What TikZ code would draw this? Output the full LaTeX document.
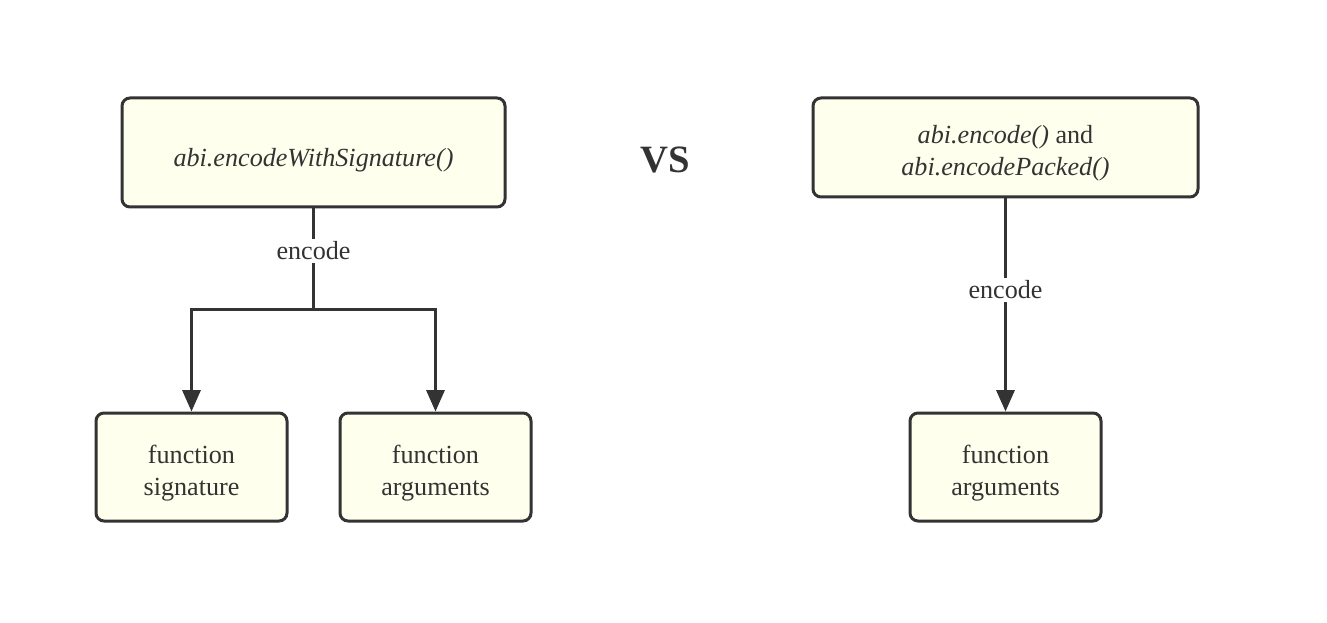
\documentclass[tikz,border=0pt]{standalone}
\usepackage{fontspec}
\setmainfont{Liberation Serif}
\usetikzlibrary{arrows.meta}
\definecolor{boxfill}{HTML}{FFFFEE}
\definecolor{ink}{HTML}{333333}
\newcommand{\boxtext}[2][4.3pt]{\raisebox{-#1}[\height][\depth]{\begin{tabular}{@{}c@{}}#2\end{tabular}}}
\tikzset{
  box/.style={draw=ink, fill=boxfill, line width=2.25pt, rounded corners=6pt,
    text=ink, align=center, font=\fontsize{19.6}{24.3}\selectfont, inner sep=0pt},
  conn/.style={draw=ink, line width=2.25pt},
  arr/.style={conn, -{Triangle[length=16pt,width=13.5pt]}},
  lbl/.style={fill=white, text=ink, font=\fontsize{19.6}{24}\selectfont, inner sep=2pt}
}
\begin{document}
\begin{tikzpicture}[x=0.75pt,y=-0.75pt]
\useasboundingbox (0,0) rectangle (1327,623);
\node[box, minimum width=287.25pt, minimum height=81.75pt] (tl) at (313.5,152.5) {\boxtext[5.8pt]{\itshape abi.encodeWithSignature()}};
\node[box, minimum width=288.75pt, minimum height=74.25pt] (tr) at (1005.5,147.5) {\boxtext{\textit{abi.encode()} and\\\textit{abi.encodePacked()}}};
\node[box, minimum width=143.25pt, minimum height=81pt] (bl1) at (191.5,467) {\boxtext{function\\signature}};
\node[box, minimum width=143.25pt, minimum height=81pt] (bl2) at (435.5,467) {\boxtext{function\\arguments}};
\node[box, minimum width=143.25pt, minimum height=81pt] (br) at (1005.5,467) {\boxtext{function\\arguments}};
\node[text=ink, font=\fontsize{29}{30}\selectfont\bfseries] (vs) at (665,160) {VS};
\coordinate (split) at (313.5,310);
\draw[conn] (tl.south) -- (split);
\draw[arr] (split) -| (bl1.north);
\draw[arr] (split) -| (bl2.north);
\node[lbl] (enc1) at (313.5,251) {encode};
\draw[arr] (tr.south) -- (br.north);
\node[lbl] (enc2) at (1005.5,290) {encode};
\end{tikzpicture}
\end{document}
